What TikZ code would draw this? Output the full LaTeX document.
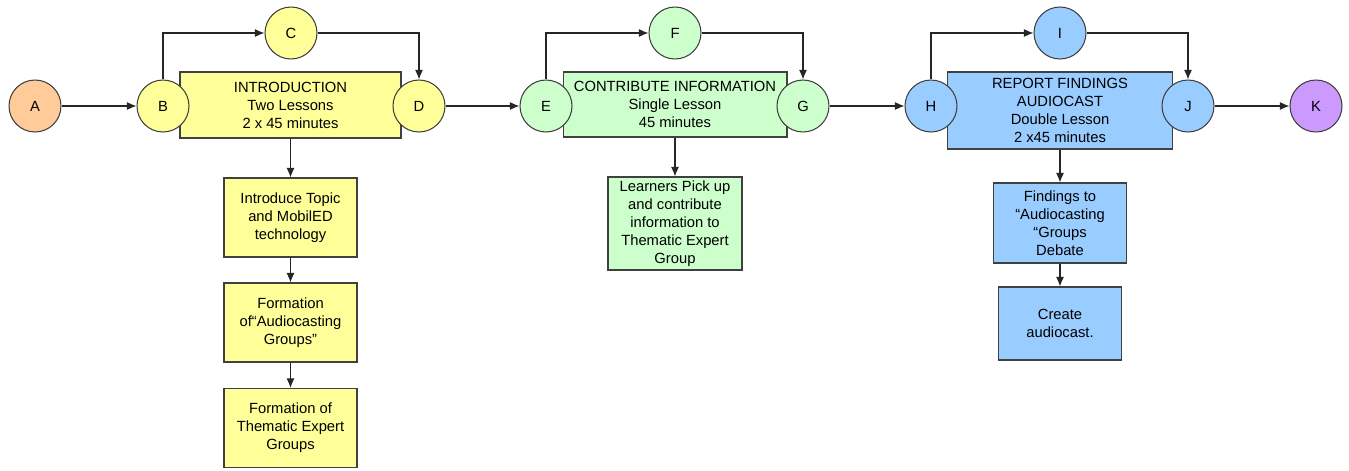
\documentclass[tikz,border=0pt]{standalone}
\usepackage{fontspec}
\setmainfont{Liberation Sans}
\usetikzlibrary{arrows.meta, positioning}

\definecolor{introfill}{HTML}{FFFF99}
\definecolor{contribfill}{HTML}{CCFFCC}
\definecolor{reportfill}{HTML}{99CCFF}
\definecolor{startfill}{HTML}{FFCC99}
\definecolor{endfill}{HTML}{CC99FF}

\begin{document}
\begin{tikzpicture}[
    x=0.02cm, y=-0.02cm,
    font=\fontsize{8.4}{10.2}\selectfont,
    box/.style={rectangle, align=center, draw=black!75, line width=0.6pt, inner sep=2pt},
    intro/.style={box, fill=introfill},
    contrib/.style={box, fill=contribfill},
    report/.style={box, fill=reportfill},
    event/.style={circle, minimum size=1.04cm, inner sep=0pt, draw=black!75, line width=0.6pt},
    arrow/.style={-{Latex[length=5.5pt,width=4.6pt]}, line width=0.6pt, draw=black!85}
]
    \useasboundingbox (0,0) rectangle (1349,470);

    % Lesson boxes
    \node[intro, minimum width=4.42cm, minimum height=1.32cm] (intro) at (290.5,105) {INTRODUCTION\\Two Lessons\\2 x 45 minutes};
    \node[contrib, minimum width=4.48cm, minimum height=1.30cm] (contrib) at (675,104.5) {CONTRIBUTE INFORMATION\\Single Lesson\\45 minutes};
    \node[report, minimum width=4.50cm, minimum height=1.54cm] (report) at (1060,110.5) {REPORT FINDINGS\\AUDIOCAST\\Double Lesson\\2 x45 minutes};

    % Events
    \node[event, fill=startfill] (A) at (35,106) {A};
    \node[event, fill=introfill] (B) at (163,106) {B};
    \node[event, fill=introfill] (C) at (291,33) {C};
    \node[event, fill=introfill] (D) at (419,106) {D};
    \node[event, fill=contribfill] (E) at (546,106) {E};
    \node[event, fill=contribfill] (F) at (675,33) {F};
    \node[event, fill=contribfill] (G) at (803,106) {G};
    \node[event, fill=reportfill] (H) at (931,106) {H};
    \node[event, fill=reportfill] (I) at (1060,33) {I};
    \node[event, fill=reportfill] (J) at (1188,106) {J};
    \node[event, fill=endfill] (K) at (1316,106) {K};

    % Activities
    \node[intro, minimum width=2.66cm, minimum height=1.58cm] (topic) at (290.5,217.5) {Introduce Topic\\and MobilED\\technology};
    \node[intro, minimum width=2.66cm, minimum height=1.58cm] (audiogroups) at (290.5,322.5) {Formation\\of``Audiocasting\\Groups''};
    \node[intro, minimum width=2.66cm, minimum height=1.58cm] (expertgroups) at (290.5,428) {Formation of\\Thematic Expert\\Groups};
    \node[contrib, minimum width=2.68cm, minimum height=1.86cm] (pickup) at (675,223.5) {Learners Pick up\\and contribute\\information to\\Thematic Expert\\Group};
    \node[report, minimum width=2.66cm, minimum height=1.60cm] (findings) at (1060,223) {Findings to\\``Audiocasting\\``Groups\\Debate};
    \node[report, minimum width=2.46cm, minimum height=1.46cm] (create) at (1060,323.5) {Create\\audiocast.};

    % Connections
    \draw[arrow] (A) -- (B);
    \draw[arrow] (B.north) |- (C);
    \draw[arrow] (C) -| (D);
    \draw[arrow] (D) -- (E);
    \draw[arrow] (E.north) |- (F);
    \draw[arrow] (F) -| (G);
    \draw[arrow] (G) -- (H);
    \draw[arrow] (H.north) |- (I);
    \draw[arrow] (I) -| (J);
    \draw[arrow] (J) -- (K);

    \draw[arrow] (intro) -- (topic);
    \draw[arrow] (topic) -- (audiogroups);
    \draw[arrow] (audiogroups) -- (expertgroups);
    \draw[arrow] (contrib) -- (pickup);
    \draw[arrow] (report) -- (findings);
    \draw[arrow] (findings) -- (create);

\end{tikzpicture}
\end{document}
